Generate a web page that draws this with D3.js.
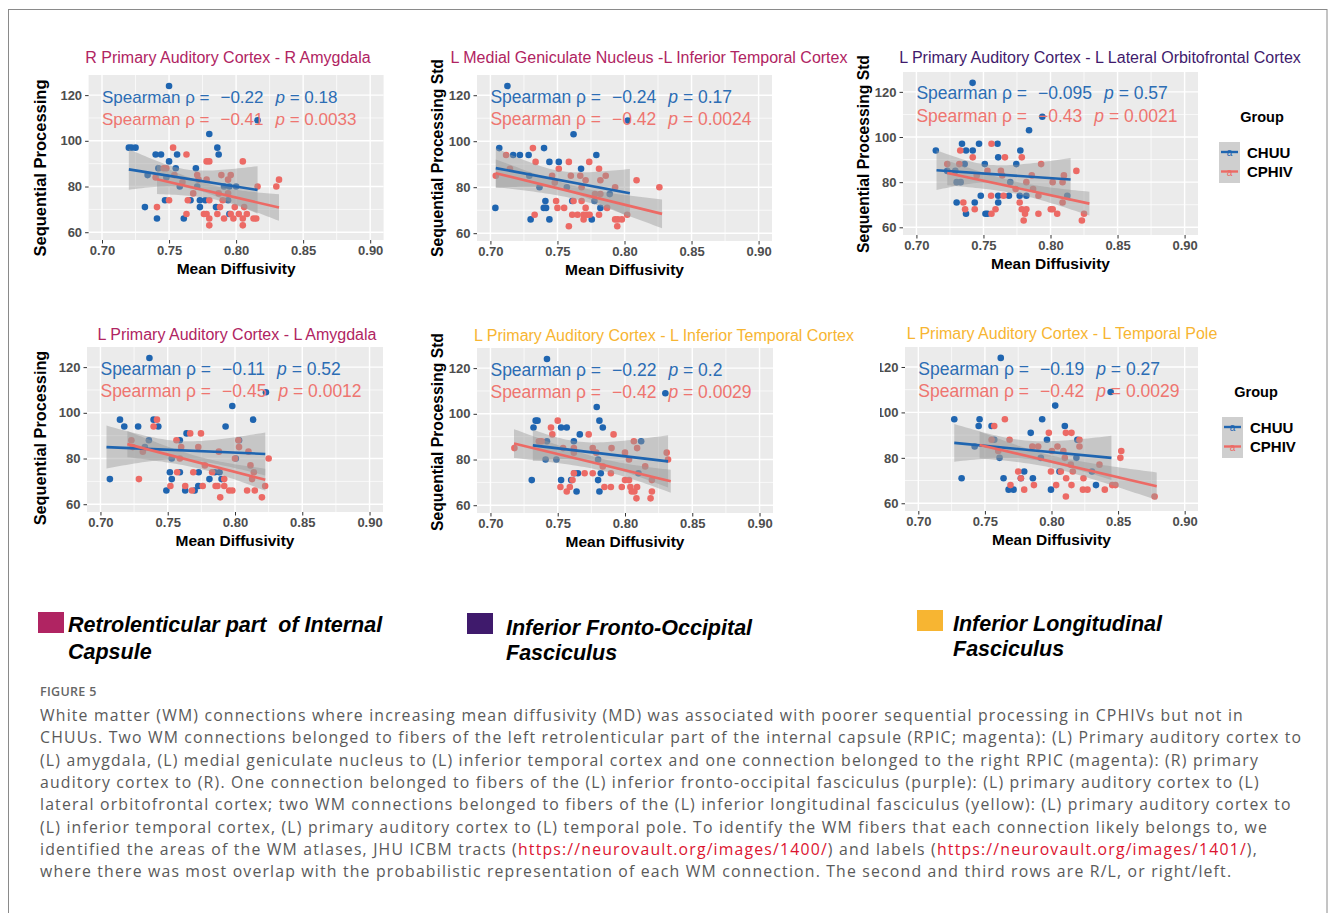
<!DOCTYPE html>
<html><head><meta charset="utf-8">
<script src="https://cdn.jsdelivr.net/npm/d3@7"></script>
<style>body{margin:0;background:#fff}svg{display:block}</style>
</head><body>
<svg id="c" width="1333" height="913"></svg>
<script>
// ---------------- DATA ----------------
const panelTitles = [
  "R Primary Auditory Cortex - R Amygdala",
  "L Medial Geniculate Nucleus -L Inferior Temporal Cortex",
  "L Primary Auditory Cortex - L Lateral Orbitofrontal Cortex",
  "L Primary Auditory Cortex - L Amygdala",
  "L Primary Auditory Cortex - L Inferior Temporal Cortex",
  "L Primary Auditory Cortex - L Temporal Pole"
];
const tractOfPanel = [0, 0, 1, 0, 2, 2];
const yAxisTitles = ["Sequential Processing","Sequential Processing Std","Sequential Processing Std",
  "Sequential Processing","Sequential Processing Std",null];
const xAxisTitle = "Mean Diffusivity";
const groups = ["CHUU","CPHIV"];
const xTicks = [0.70,0.75,0.80,0.85,0.90];
const xMinor = [0.725,0.775,0.825,0.875];
const yTicks = [60,80,100,120];
const yMinor = [70,90,110];

// Spearman stats [rho, p] per panel: CHUU, CPHIV
const statsCHUU  = [["−0.22","0.18"],["−0.24","0.17"],["−0.095","0.57"],["−0.11","0.52"],["−0.22","0.2"],["−0.19","0.27"]];
const statsCPHIV = [["−0.41","0.0033"],["−0.42","0.0024"],["−0.43","0.0021"],["−0.45","0.0012"],["−0.42","0.0029"],["−0.42","0.0029"]];

// points [MD, score]
const p1CHUU = [[.750,124],[.816,109],[.780,103],[.720,97],[.722,97],[.725,97],[.786,97],[.740,94],[.744,94],[.756,94],[.787,94],[.750,91],[.742,88],[.755,88],[.770,88],[.734,85],[.748,84],[.771,80],[.791,80],[.795,80],[.800,80],[.747,74],[.766,74],[.773,74],[.777,74],[.794,74],[.732,71],[.773,71],[.785,71],[.741,66],[.761,66],[.795,68],[.758,80]];
const p1CPHIV = [[.753,97],[.763,94],[.746,88],[.748,88],[.778,91],[.780,91],[.805,91],[.754,85],[.771,85],[.789,85],[.796,85],[.772,83],[.778,83],[.794,83],[.816,80],[.830,80],[.832,83],[.768,77],[.787,77],[.794,77],[.750,74],[.764,74],[.780,74],[.790,74],[.741,71],[.788,71],[.799,71],[.806,71],[.763,68],[.776,68],[.778,68],[.786,68],[.796,68],[.802,68],[.808,68],[.780,66],[.791,66],[.798,66],[.805,66],[.813,66],[.815,66],[.780,63],[.805,63],[.760,82],[.740,84]];
const p2CHUU = [[.7127,124],[.8024,109],[.762,103],[.7066,97],[.740,97],[.717,94],[.722,94],[.7285,94],[.779,94],[.744,91],[.751,91],[.7676,88],[.729,85],[.7366,80],[.757,80],[.741,74],[.761,74],[.7776,74],[.789,77],[.7037,71],[.7398,71],[.7415,71],[.782,71],[.730,66],[.744,66],[.7756,66]];
const p2CPHIV = [[.7317,97],[.7117,94],[.7337,91],[.7585,91],[.7737,91],[.7146,88],[.751,88],[.781,88],[.704,85],[.746,85],[.760,85],[.767,85],[.786,85],[.771,83],[.782,83],[.809,83],[.826,80],[.793,80],[.768,80],[.778,77],[.782,77],[.749,74],[.762,74],[.768,74],[.750,71],[.755,71],[.771,71],[.787,71],[.733,68],[.761,68],[.765,68],[.7695,68],[.772,68],[.774,68],[.781,68],[.802,68],[.7695,66],[.793,66],[.795,66],[.798,66],[.7585,63],[.7946,63],[.748,82]];
const p3CHUU = [[.7419,124],[.7939,109],[.784,103],[.734,97],[.7467,97],[.7605,97],[.7145,94],[.737,94],[.742,94],[.7775,94],[.761,91],[.736,88],[.751,88],[.7745,88],[.723,85],[.729,85],[.730,80],[.733,80],[.770,80],[.748,74],[.761,74],[.769,74],[.777,74],[.782,74],[.8125,74],[.730,71],[.7435,71],[.761,71],[.737,66],[.7515,66],[.753,66]];
const p3CPHIV = [[.756,97],[.7327,94],[.742,91],[.766,91],[.7786,91],[.723,88],[.732,88],[.793,88],[.8193,85],[.753,85],[.763,85],[.810,83],[.786,83],[.745,83],[.764,83],[.782,80],[.8016,80],[.809,80],[.774,77],[.787,77],[.7557,74],[.765,74],[.791,74],[.735,71],[.777,71],[.809,71],[.7363,68],[.7435,68],[.759,68],[.7786,68],[.782,68],[.8002,68],[.8016,68],[.756,66],[.781,66],[.791,66],[.805,66],[.825,66],[.780,63],[.8234,63]];
const p4CHUU = [[.7364,124],[.823,109],[.798,103],[.7145,97],[.7395,97],[.8135,97],[.7177,94],[.728,94],[.743,94],[.793,94],[.764,91],[.736,88],[.759,88],[.803,88],[.733,85],[.753,80],[.8006,80],[.7516,74],[.759,74],[.773,74],[.785,74],[.7885,74],[.707,71],[.753,71],[.781,71],[.790,71],[.749,66],[.763,66],[.770,66],[.7727,68]];
const p4CPHIV = [[.742,97],[.7395,94],[.7667,91],[.7747,91],[.723,88],[.7565,88],[.8025,88],[.724,85],[.760,85],[.7727,85],[.803,85],[.7315,83],[.788,83],[.810,83],[.759,80],[.800,80],[.825,80],[.7776,77],[.8115,77],[.757,74],[.769,74],[.783,74],[.814,74],[.7286,71],[.792,71],[.8127,71],[.752,68],[.763,68],[.776,68],[.7856,68],[.787,68],[.792,68],[.8224,68],[.768,66],[.7957,66],[.798,66],[.809,66],[.8147,66],[.789,63],[.820,63]];
const p5CHUU = [[.742,124],[.830,109],[.779,103],[.7336,97],[.735,97],[.781,97],[.732,94],[.7525,94],[.7567,94],[.7835,94],[.7664,91],[.742,88],[.762,88],[.812,88],[.741,80],[.749,80],[.780,80],[.7623,74],[.765,74],[.782,74],[.7307,71],[.7525,71],[.760,71],[.780,71],[.764,66],[.781,66],[.810,74]];
const p5CPHIV = [[.750,97],[.745,94],[.746,91],[.773,91],[.7915,91],[.736,88],[.738,88],[.8066,88],[.7178,85],[.754,85],[.762,85],[.776,85],[.790,85],[.809,85],[.762,83],[.7786,83],[.800,83],[.831,83],[.832,80],[.803,80],[.7835,77],[.815,77],[.762,74],[.770,74],[.776,74],[.7895,74],[.761,71],[.800,71],[.803,71],[.820,71],[.752,68],[.759,68],[.7847,68],[.7895,68],[.7976,68],[.804,68],[.809,68],[.7567,66],[.805,66],[.807,66],[.820,66],[.8085,63],[.819,63]];
const p6CHUU = [[.7619,124],[.8444,109],[.8028,103],[.727,97],[.746,97],[.793,97],[.7453,94],[.755,94],[.810,94],[.7844,91],[.757,88],[.7966,88],[.8194,88],[.7423,85],[.761,80],[.792,80],[.8187,80],[.7795,74],[.806,74],[.8304,74],[.7325,71],[.764,71],[.777,71],[.786,71],[.7678,66],[.7715,66],[.7996,66],[.8334,68]];
const p6CPHIV = [[.765,97],[.757,94],[.798,91],[.8108,91],[.815,91],[.755,88],[.7685,88],[.821,88],[.7856,85],[.790,85],[.8045,85],[.821,85],[.760,83],[.8003,83],[.8089,83],[.8524,83],[.8517,80],[.810,80],[.8145,77],[.836,77],[.775,74],[.7996,74],[.807,74],[.816,74],[.777,71],[.811,71],[.824,71],[.7692,68],[.7868,68],[.8035,68],[.815,68],[.8456,68],[.848,68],[.7795,66],[.8236,66],[.827,66],[.840,66],[.8108,63],[.8774,63]];

// linear fits: [x0, y0, x1, y1, halfwidth0, halfwidthMin, halfwidth1, xAtMin]
const fitCHUU  = [[.720,87.5,.816,78.5,8.9,4.0,10.4,.762],[.704,88.3,.804,77.4,8.7,4.0,10.5,.750],[.715,85.3,.815,81.2,8.8,4.0,9.5,.755],
                  [.7045,85.0,.8225,82.0,9.4,4.0,9.4,.760],[.7315,86.2,.832,79.2,6.9,4.0,11.4,.765],[.727,86.6,.845,80.0,8.3,4.0,9.7,.780]];
const fitCPHIV = [[.741,83.2,.832,70.8,6.5,3.0,5.8,.785],[.704,86.1,.828,68.4,6.0,2.8,6.3,.765],[.723,84.1,.829,70.5,5.5,2.7,5.3,.775],
                  [.720,86.3,.8225,70.7,5.7,2.6,4.8,.775],[.7175,87.0,.834,70.5,6.3,2.6,5.0,.785],[.746,85.7,.879,67.5,5.9,2.7,6.1,.800]];

const tractNames = [["Retrolenticular part  of Internal","Capsule"],["Inferior Fronto-Occipital","Fasciculus"],["Inferior Longitudinal","Fasciculus"]];
const captionHead = "FIGURE 5";
const captionLines = [
 [["White matter (WM) connections where increasing mean diffusivity (MD) was associated with poorer sequential processing in CPHIVs but not in",0]],
 [["CHUUs. Two WM connections belonged to fibers of the left retrolenticular part of the internal capsule (RPIC; magenta): (L) Primary auditory cortex to",0]],
 [["(L) amygdala, (L) medial geniculate nucleus to (L) inferior temporal cortex and one connection belonged to the right RPIC (magenta): (R) primary",0]],
 [["auditory cortex to (R). One connection belonged to fibers of the (L) inferior fronto-occipital fasciculus (purple): (L) primary auditory cortex to (L)",0]],
 [["lateral orbitofrontal cortex; two WM connections belonged to fibers of the (L) inferior longitudinal fasciculus (yellow): (L) primary auditory cortex to",0]],
 [["(L) inferior temporal cortex, (L) primary auditory cortex to (L) temporal pole. To identify the WM fibers that each connection likely belongs to, we",0]],
 [["identified the areas of the WM atlases, JHU ICBM tracts (",0],["https://neurovault.org/images/1400/",1],[") and labels (",0],["https://neurovault.org/images/1401/",1],["),",0]],
 [["where there was most overlap with the probabilistic representation of each WM connection. The second and third rows are R/L, or right/left.",0]]
];

// ---------------- STYLE / LAYOUT ----------------
const pointsCHUU = [p1CHUU,p2CHUU,p3CHUU,p4CHUU,p5CHUU,p6CHUU];
const pointsCPHIV = [p1CPHIV,p2CPHIV,p3CPHIV,p4CPHIV,p5CPHIV,p6CPHIV];
const tractColors = ["#b02462","#3f1a6c","#f7b532"];
const groupColors = ["#1f65b0","#ec6a65"];
const textColors = ["#2c6db4","#ee7570"];
const FONT = "'Liberation Sans', Arial, Helvetica, sans-serif";
const layout = [
 {rect:[88.6,75,295,165], title:[228,57], ylx:40, yly:168, ylfs:16.5, afs:17},
 {rect:[477,75,295,166], title:[649,57], ylx:437, yly:158, ylfs:15.7, afs:17.5},
 {rect:[903,72,295,163], title:[1100,57], ylx:863, yly:154, ylfs:15.7, afs:17.5},
 {rect:[87,347,296,165], title:[237,334], ylx:40, yly:438, ylfs:16.3, afs:17.5},
 {rect:[477,348,296,165], title:[664,335], ylx:437, yly:432, ylfs:15.7, afs:17.5},
 {rect:[905,347,293,164], title:[1062,333], ylx:null, yly:null, ylfs:15.7, afs:17.5, clipX:880}
];
const xDomain = [0.69,0.91], yDomain = [56.6,128.8];

const svg = d3.select("#c");
svg.append("rect").attr("x",8.5).attr("y",9.5).attr("width",1318.5).attr("height",920)
  .attr("fill","none").attr("stroke","#8a8a8a").attr("stroke-width",1);

const defs = svg.append("defs");

layout.forEach((L,i)=>{
  const [rx,ry,rw,rh] = L.rect;
  const x = d3.scaleLinear().domain(xDomain).range([rx,rx+rw]);
  const y = d3.scaleLinear().domain(yDomain).range([ry+rh,ry]);
  let g = svg.append("g");
  if (L.clipX){
    defs.append("clipPath").attr("id","clip"+i).append("rect")
      .attr("x",L.clipX).attr("y",ry-40).attr("width",1333-L.clipX).attr("height",rh+80);
    g.attr("clip-path","url(#clip"+i+")");
  }
  g.append("text").attr("x",L.title[0]).attr("y",L.title[1]).attr("text-anchor","middle")
    .attr("dominant-baseline","central").attr("font-family",FONT).attr("font-size",16)
    .attr("fill",tractColors[tractOfPanel[i]]).text(panelTitles[i]);
  g.append("rect").attr("x",rx).attr("y",ry).attr("width",rw).attr("height",rh).attr("fill","#ebebeb");
  const grid = g.append("g").attr("stroke","#fff");
  xMinor.forEach(v=>grid.append("line").attr("x1",x(v)).attr("x2",x(v)).attr("y1",ry).attr("y2",ry+rh).attr("stroke-width",0.7));
  yMinor.forEach(v=>grid.append("line").attr("y1",y(v)).attr("y2",y(v)).attr("x1",rx).attr("x2",rx+rw).attr("stroke-width",0.7));
  xTicks.forEach(v=>grid.append("line").attr("x1",x(v)).attr("x2",x(v)).attr("y1",ry).attr("y2",ry+rh).attr("stroke-width",1.4));
  yTicks.forEach(v=>grid.append("line").attr("y1",y(v)).attr("y2",y(v)).attr("x1",rx).attr("x2",rx+rw).attr("stroke-width",1.4));
  const ax = g.append("g").attr("transform",`translate(0,${ry+rh})`)
    .call(d3.axisBottom(x).tickValues(xTicks).tickFormat(d3.format(".2f")).tickSize(3.5).tickPadding(2));
  const ay = g.append("g").attr("transform",`translate(${rx},0)`)
    .call(d3.axisLeft(y).tickValues(yTicks).tickFormat(d3.format("d")).tickSize(3.5).tickPadding(3));
  [ax,ay].forEach(a=>{
    a.select(".domain").remove();
    a.selectAll("line").attr("stroke","#333").attr("stroke-width",1);
    a.selectAll("text").attr("font-family",FONT).attr("font-size",13).attr("font-weight","bold").attr("fill","#4d4d4d");
  });
  g.append("text").attr("x",rx+rw/2).attr("y",ry+rh+28).attr("text-anchor","middle").attr("dominant-baseline","central")
    .attr("font-family",FONT).attr("font-size",15.5).attr("font-weight","bold").attr("fill","#000").text(xAxisTitle);
  if (yAxisTitles[i]) g.append("text").attr("transform",`translate(${L.ylx},${L.yly}) rotate(-90)`).attr("text-anchor","middle")
    .attr("dominant-baseline","central").attr("font-family",FONT).attr("font-size",L.ylfs).attr("font-weight","bold")
    .attr("fill","#000").text(yAxisTitles[i]);
  [pointsCHUU[i],pointsCPHIV[i]].forEach((pts,gi)=>{
    g.append("g").selectAll("circle").data(pts).join("circle")
      .attr("cx",d=>x(d[0])).attr("cy",d=>y(d[1])).attr("r",3.3).attr("fill",groupColors[gi]);
  });
  [fitCHUU[i],fitCPHIV[i]].forEach((f,gi)=>{
    const [x0,y0,x1,y1,w0,wm,w1,xm] = f;
    const lineY = v => y0 + (y1-y0)*(v-x0)/(x1-x0);
    const hw = v => { const ww = v<xm ? w0 : w1, xe = v<xm ? x0 : x1;
      const t = (v-xm)/(xe-xm); return Math.sqrt(wm*wm + (ww*ww-wm*wm)*t*t); };
    const xs = d3.range(0,41).map(k=>x0+(x1-x0)*k/40);
    g.append("path").datum(xs)
      .attr("d",d3.area().x(v=>x(v)).y0(v=>y(lineY(v)-hw(v))).y1(v=>y(lineY(v)+hw(v))))
      .attr("fill","#999").attr("fill-opacity",0.45);
  });
  [fitCHUU[i],fitCPHIV[i]].forEach((f,gi)=>{
    g.append("line").attr("x1",x(f[0])).attr("y1",y(f[1])).attr("x2",x(f[2])).attr("y2",y(f[3]))
      .attr("stroke",groupColors[gi]).attr("stroke-width",2.6);
  });
  const annY = [119.3,109.5];
  [statsCHUU[i],statsCPHIV[i]].forEach((s,gi)=>{
    const t = g.append("text").attr("x",x(0.70)).attr("y",y(annY[gi])).attr("dominant-baseline","central")
      .attr("font-family",FONT).attr("font-size",L.afs).attr("fill",textColors[gi]);
    t.append("tspan").text("Spearman ρ =");
    t.append("tspan").attr("dx",11).text(s[0]);
    t.append("tspan").attr("dx",12).attr("font-style","italic").text("p");
    t.append("tspan").text(" = "+s[1]);
  });
});

// group legends
[[1219,142,1262,117],[1222,417,1256,392]].forEach(([lx,ly,gx,gy])=>{
  const g = svg.append("g");
  g.append("text").attr("x",gx).attr("y",gy).attr("text-anchor","middle").attr("dominant-baseline","central")
    .attr("font-family",FONT).attr("font-size",14.5).attr("font-weight","bold").attr("fill","#000").text("Group");
  g.append("rect").attr("x",lx).attr("y",ly).attr("width",21).attr("height",41).attr("fill","#cfcfcf");
  groups.forEach((name,gi)=>{
    const cy = ly + 10 + gi*19.5;
    g.append("line").attr("x1",lx+2).attr("x2",lx+19).attr("y1",cy).attr("y2",cy).attr("stroke",groupColors[gi]).attr("stroke-width",2.4);
    g.append("text").attr("x",lx+10.5).attr("y",cy+4).attr("text-anchor","middle").attr("font-family",FONT)
      .attr("font-size",10).attr("fill",groupColors[gi]).text("a");
    g.append("text").attr("x",lx+28).attr("y",cy).attr("dominant-baseline","central").attr("font-family",FONT)
      .attr("font-size",15).attr("font-weight","bold").attr("fill","#000").text(name);
  });
});

// tract legend
[[38,612,68,625,652],[467,613,506,628,653],[917,610,953,624,649]].forEach(([sx,sy,tx,t1,t2],k)=>{
  svg.append("rect").attr("x",sx).attr("y",sy).attr("width",26).attr("height",21).attr("fill",tractColors[k]);
  [t1,t2].forEach((ty,li)=>{
    svg.append("text").attr("x",tx).attr("y",ty).attr("dominant-baseline","central").attr("font-family",FONT)
      .attr("font-size",21.5).attr("font-weight","bold").attr("font-style","italic").attr("fill","#000")
      .attr("xml:space","preserve").style("white-space","pre").text(tractNames[k][li]);
  });
});

// caption
const CAPFONT = "'Open Sans', Lato, sans-serif";
const CAPSIZE = 15.8;
svg.append("text").attr("x",40).attr("y",691).attr("dominant-baseline","central").attr("font-family",CAPFONT)
  .attr("font-size",12.5).attr("font-weight",600).attr("fill","#666").attr("letter-spacing",0.3).text(captionHead);
const capTexts = captionLines.map((segs,li)=>{
  const t = svg.append("text").attr("x",40).attr("y",715+li*22.3).attr("dominant-baseline","central")
    .attr("font-family",CAPFONT).attr("font-size",CAPSIZE).attr("fill","#5a5a5a");
  segs.forEach(([s,isLink])=>t.append("tspan").attr("fill",isLink?"#dc1430":"#5a5a5a").text(s));
  return t;
});
// widen the glyph spacing so the first caption line spans the reference width (x 40 → 1244)
const len0 = capTexts[0].node().getComputedTextLength();
const nChars = captionLines[0][0][0].length;
const ls = Math.max(0, (1204 - len0) / nChars);
capTexts.forEach(t=>t.attr("letter-spacing",ls));
</script>
</body></html>
